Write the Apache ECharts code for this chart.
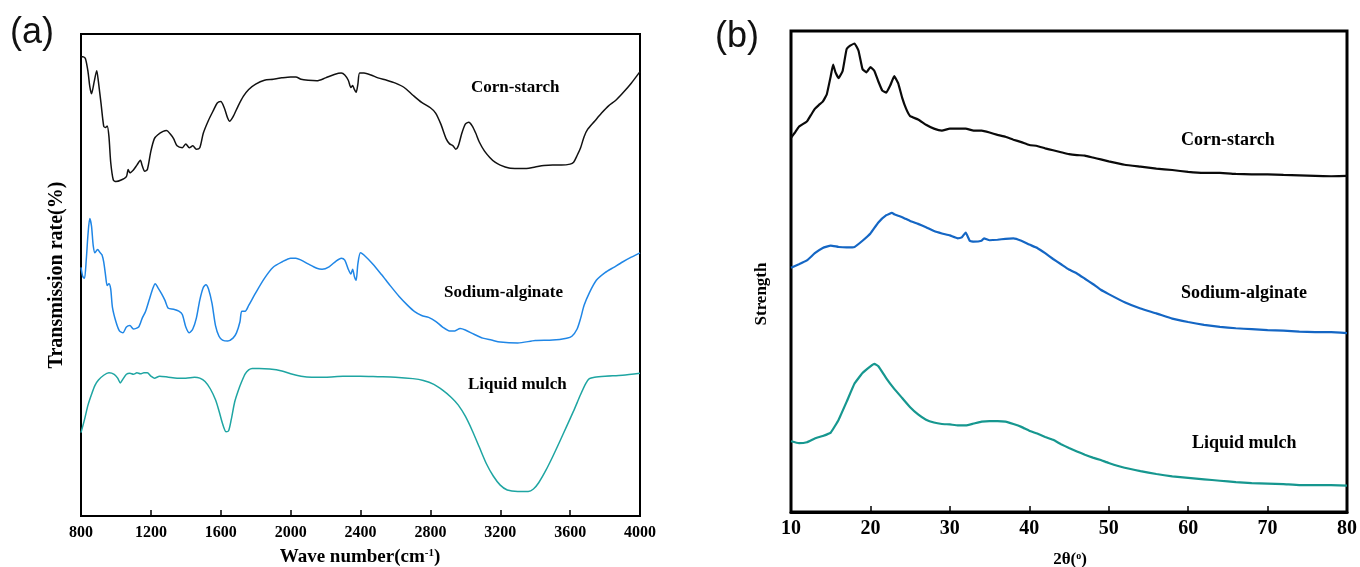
<!DOCTYPE html>
<html>
<head>
<meta charset="utf-8">
<title>FTIR and XRD spectra</title>
<script src="https://cdn.jsdelivr.net/npm/echarts@6/dist/echarts.min.js"></script>
<style>
  html, body { margin: 0; padding: 0; background: #fff; }
  #chart { width: 1360px; height: 567px; }
</style>
</head>
<body>
<div id="chart"></div>
<script>
// ---- (a) FTIR spectra: [wave number (cm-1), transmission (a.u.)] ----
const ftirCornStarch = [
  [800,95.3],[810,95.3],[825,94.9],[840,92.2],[850,89.2],[860,87.6],[875,90.0],[890,92.4],[900,90.0],
  [915,85.5],[930,80.9],[940,80.6],[950,80.9],[960,78.7],[970,73.4],[985,69.7],[1000,69.4],[1030,69.7],
  [1060,70.4],[1070,71.9],[1080,71.2],[1100,71.8],[1120,72.8],[1140,73.8],[1150,72.7],[1165,71.5],
  [1180,71.9],[1200,75.7],[1220,78.3],[1240,79.1],[1270,79.8],[1290,80.0],[1310,79.3],[1330,78.3],
  [1350,76.8],[1380,76.4],[1400,77.2],[1420,76.4],[1440,76.8],[1460,76.1],[1480,76.4],[1500,79.4],
  [1530,82.1],[1560,84.3],[1580,85.7],[1600,86.0],[1620,84.7],[1640,82.5],[1650,81.9],[1670,82.8],
  [1700,85.1],[1730,87.1],[1760,88.5],[1800,89.6],[1850,90.4],[1900,90.6],[1950,90.9],[2000,91.1],
  [2030,91.1],[2060,90.6],[2100,90.4],[2150,90.3],[2200,90.9],[2250,91.6],[2290,91.9],[2310,91.5],
  [2330,90.4],[2345,88.9],[2355,89.3],[2365,88.5],[2375,87.9],[2385,89.6],[2395,91.9],[2420,91.9],
  [2460,91.5],[2500,90.9],[2550,90.4],[2600,89.8],[2650,88.9],[2700,87.3],[2750,85.8],[2800,84.7],
  [2830,83.6],[2860,81.3],[2890,78.3],[2910,77.2],[2930,76.8],[2945,76.1],[2960,76.8],[2980,79.4],
  [3000,81.3],[3020,81.7],[3040,80.9],[3060,79.4],[3080,77.6],[3110,75.7],[3140,74.4],[3170,73.4],
  [3200,72.8],[3250,72.2],[3300,72.1],[3350,72.1],[3400,72.4],[3450,72.7],[3500,72.8],[3550,72.8],
  [3600,73.0],[3620,73.4],[3640,74.8],[3660,76.4],[3680,78.7],[3700,80.2],[3740,81.9],[3780,83.6],
  [3820,85.1],[3860,86.2],[3900,87.7],[3950,89.8],[4000,92.2]
];
const ftirSodiumAlginate = [
  [800,51.6],[810,49.7],[820,49.3],[830,53.1],[840,58.4],[850,61.7],[860,60.2],[870,56.1],[880,54.6],
  [895,55.3],[910,54.6],[920,54.2],[930,52.7],[940,50.1],[950,47.8],[960,48.2],[970,47.1],[980,43.3],
  [1000,40.3],[1020,38.4],[1040,38.0],[1060,39.2],[1080,39.5],[1100,38.8],[1130,39.2],[1150,41.0],
  [1170,42.5],[1190,44.8],[1210,47.1],[1225,48.2],[1240,47.4],[1260,46.2],[1280,44.8],[1300,43.1],
  [1330,42.9],[1360,42.5],[1380,41.8],[1400,39.2],[1420,38.0],[1440,38.8],[1460,41.0],[1480,44.8],
  [1500,47.4],[1515,48.0],[1530,47.1],[1550,44.1],[1570,39.5],[1590,37.3],[1610,36.5],[1640,36.3],
  [1670,36.9],[1690,38.0],[1710,40.3],[1720,42.5],[1740,42.5],[1760,43.7],[1800,46.3],[1850,49.3],
  [1900,51.6],[1950,52.7],[2000,53.5],[2030,53.5],[2060,53.1],[2100,52.3],[2150,51.4],[2180,51.2],
  [2220,51.7],[2260,52.9],[2290,53.5],[2310,53.1],[2330,51.2],[2345,50.2],[2355,51.2],[2365,49.7],
  [2375,48.9],[2385,52.3],[2400,54.6],[2430,53.8],[2470,52.3],[2520,50.1],[2570,47.8],[2620,45.6],
  [2670,43.7],[2710,42.4],[2750,41.6],[2790,41.2],[2830,40.4],[2870,39.2],[2910,38.4],[2940,38.4],
  [2970,38.9],[3000,38.6],[3050,37.7],[3100,36.9],[3150,36.5],[3200,36.1],[3300,35.9],[3400,36.4],
  [3500,36.5],[3580,36.9],[3610,37.3],[3640,38.8],[3660,41.0],[3680,43.7],[3710,46.3],[3750,48.9],
  [3800,50.5],[3850,51.6],[3900,52.7],[3950,53.7],[4000,54.6]
];
const ftirLiquidMulch = [
  [800,17.3],[820,20.0],[840,23.0],[860,25.2],[880,27.1],[900,28.2],[930,29.2],[960,29.7],[990,29.4],
  [1010,28.6],[1025,27.6],[1040,28.4],[1060,29.4],[1080,29.6],[1100,29.4],[1120,29.7],[1140,29.5],
  [1160,29.7],[1180,29.7],[1200,29.0],[1220,28.6],[1250,29.0],[1300,28.8],[1350,28.6],[1400,28.6],
  [1450,28.8],[1480,28.6],[1510,27.9],[1540,26.4],[1570,24.1],[1590,21.8],[1610,19.2],[1630,17.5],
  [1645,17.7],[1660,20.0],[1680,23.7],[1700,26.0],[1720,27.9],[1740,29.5],[1760,30.3],[1780,30.6],
  [1820,30.6],[1880,30.5],[1950,30.1],[2000,29.5],[2060,29.0],[2120,28.8],[2200,28.8],[2300,29.0],
  [2400,29.0],[2500,28.9],[2600,28.8],[2700,28.5],[2760,28.1],[2820,27.3],[2870,26.1],[2920,24.6],
  [2960,23.0],[3000,20.7],[3040,17.7],[3080,14.3],[3120,10.9],[3160,8.3],[3200,6.4],[3240,5.4],
  [3300,5.1],[3360,5.1],[3390,5.6],[3420,6.9],[3460,9.4],[3500,12.3],[3540,15.4],[3580,18.6],
  [3620,21.8],[3660,25.2],[3690,27.5],[3710,28.5],[3740,28.8],[3800,29.0],[3900,29.2],[4000,29.6]
];

// ---- (b) XRD patterns: [2θ (°), intensity (a.u.)] ----
const xrdCornStarch = [
  [10,77.8],[10.5,78.9],[11,80.1],[12,81.2],[12.5,82.5],[13,83.8],[13.5,84.6],[14,85.3],[14.5,86.8],
  [15,90.6],[15.3,93.0],[15.6,91.4],[16,90.2],[16.5,91.7],[17,96.2],[17.5,97.0],[18,97.4],[18.5,95.9],
  [19,92.1],[19.5,91.4],[20,92.5],[20.5,91.7],[21,89.5],[21.5,87.6],[22,87.2],[22.5,88.7],[23,90.6],
  [23.5,89.1],[24,86.1],[24.5,83.8],[25,82.3],[26,81.6],[27,80.5],[28,79.7],[29,79.3],[30,79.7],
  [31,79.7],[32,79.7],[33,79.3],[34,79.3],[35,78.9],[36,78.4],[37,78.0],[38,77.4],[39,76.9],[40,76.3],
  [41,76.1],[42,75.6],[43,75.2],[44,74.8],[45,74.4],[46,74.2],[47,74.1],[48,73.7],[49,73.3],[50,72.9],
  [52,72.2],[54,71.8],[56,71.4],[58,71.1],[60,70.7],[62,70.5],[64,70.5],[66,70.3],[68,70.2],[70,70.2],
  [72,70.1],[74,70.0],[76,69.9],[78,69.8],[80,69.9]
];
const xrdSodiumAlginate = [
  [10,50.8],[11,51.5],[12,52.3],[13,53.8],[14,54.9],[15,55.4],[16,55.1],[17,55.0],[18,55.1],[19,56.4],
  [20,57.9],[21,60.2],[22,61.7],[22.7,62.2],[23,61.9],[24,61.3],[25,60.5],[26,59.9],[27,59.2],[28,58.4],
  [29,57.9],[30,57.5],[31,56.9],[31.5,57.1],[32,58.1],[32.5,56.4],[33,56.2],[34,56.4],[34.3,56.9],
  [35,56.5],[36,56.6],[37,56.8],[38,56.9],[39,56.4],[40,55.6],[41,54.9],[42,53.8],[43,52.6],[44,51.5],
  [45,50.4],[46,49.6],[47,48.5],[48,47.4],[49,46.2],[50,45.3],[52,43.6],[54,42.3],[56,41.3],[58,40.2],
  [60,39.5],[62,38.9],[64,38.5],[66,38.2],[68,38.0],[70,37.8],[72,37.7],[74,37.5],[76,37.4],[78,37.4],
  [80,37.2]
];
const xrdLiquidMulch = [
  [10,14.7],[11,14.3],[12,14.5],[13,15.3],[14,15.8],[15,16.5],[16,19.2],[17,22.9],[18,26.7],[19,28.9],
  [20,30.3],[20.5,30.8],[21,30.3],[22,27.8],[23,25.6],[24,23.7],[25,21.8],[26,20.3],[27,19.2],[28,18.6],
  [29,18.3],[30,18.2],[31,18.0],[32,18.0],[33,18.4],[34,18.8],[35,18.9],[36,18.9],[37,18.8],[38,18.3],
  [39,17.7],[40,16.9],[41,16.3],[42,15.6],[43,15.0],[44,14.1],[45,13.3],[46,12.6],[47,11.9],[48,11.3],
  [49,10.8],[50,10.2],[52,9.2],[54,8.5],[56,7.9],[58,7.4],[60,7.1],[62,6.8],[64,6.5],[66,6.2],[68,6.0],
  [70,5.9],[72,5.8],[74,5.6],[76,5.6],[78,5.6],[80,5.5]
];

const sampleNames = ['Corn-starch', 'Sodium-alginate', 'Liquid mulch'];
const ftirTicks = { min: 800, max: 4000, step: 400 };
const xrdTicks = { min: 10, max: 80, step: 10 };

const SERIF = '"Liberation Serif", "Times New Roman", serif';
const SANS = '"Liberation Sans", Arial, sans-serif';
const BLACK = '#000000';
const COLORS_A = ['#111111', '#1f86e6', '#1ea5a2'];
const COLORS_B = ['#0a0a0a', '#1466c4', '#16978f'];

const chart = echarts.init(document.getElementById('chart'), null, { renderer: 'canvas' });

function xAxisCfg(gridIndex, t, fontSize, margin) {
  return {
    type: 'value', gridIndex,
    min: t.min, max: t.max, interval: t.step,
    axisLine: { show: true, onZero: false, lineStyle: { color: BLACK, width: gridIndex === 0 ? 2 : 3 } },
    axisTick: { show: true, inside: true, length: 6, lineStyle: { color: BLACK, width: 1.5 } },
    axisLabel: {
      color: BLACK, fontFamily: SERIF, fontWeight: 'bold', fontSize, margin,
      formatter: v => String(v)
    },
    splitLine: { show: false }
  };
}
function yAxisCfg(gridIndex) {
  return {
    type: 'value', gridIndex, min: 0, max: 100,
    axisLine: { show: false }, axisTick: { show: false },
    axisLabel: { show: false }, splitLine: { show: false }
  };
}
function lineSeries(data, xi, color, width, smooth) {
  return {
    type: 'line', xAxisIndex: xi, yAxisIndex: xi, data,
    showSymbol: false, smooth, silent: true, animation: false,
    lineStyle: { color, width }
  };
}
function label(text, x, y, size) {
  return {
    type: 'text', left: x, top: y - size / 2,
    style: { text, fill: BLACK, font: 'bold ' + size + 'px ' + SERIF }
  };
}

const ftirSets = [ftirCornStarch, ftirSodiumAlginate, ftirLiquidMulch];
const xrdSets = [xrdCornStarch, xrdSodiumAlginate, xrdLiquidMulch];

chart.setOption({
  animation: false,
  backgroundColor: '#ffffff',
  grid: [
    { left: 81, top: 34, width: 559, height: 482, show: true, borderColor: BLACK, borderWidth: 2, backgroundColor: 'transparent' },
    { left: 791, top: 31, width: 558, height: 481, show: true, borderColor: BLACK, borderWidth: 3, backgroundColor: 'transparent' }
  ],
  xAxis: [xAxisCfg(0, ftirTicks, 16, 9), xAxisCfg(1, xrdTicks, 20, 7)],
  yAxis: [yAxisCfg(0), yAxisCfg(1)],
  series: [
    // FTIR traces are smooth; XRD traces keep their point-to-point roughness
    ...ftirSets.map((d, i) => lineSeries(d, 0, COLORS_A[i], 1.5, 0.25)),
    ...xrdSets.map((d, i) => lineSeries(d, 1, COLORS_B[i], 2.2, 0.1))
  ],
  graphic: [
    { type: 'text', left: 10, top: 15, style: { text: '(a)', fill: '#111', font: '36px ' + SANS } },
    { type: 'text', left: 715, top: 19, style: { text: '(b)', fill: '#111', font: '36px ' + SANS } },

    label(sampleNames[0], 471, 88, 17),
    label(sampleNames[1], 444, 293, 17),
    label(sampleNames[2], 468, 385, 17),

    label(sampleNames[0], 1181, 140, 18),
    label(sampleNames[1], 1181, 293, 18),
    label(sampleNames[2], 1192, 443, 18),

    {
      type: 'text', x: 57, y: 275, rotation: Math.PI / 2,
      style: { text: 'Transmission rate(%)', fill: BLACK, font: 'bold 20px ' + SERIF, textAlign: 'center', textVerticalAlign: 'middle' }
    },
    {
      type: 'text', x: 762, y: 294, rotation: Math.PI / 2,
      style: { text: 'Strength', fill: BLACK, font: 'bold 17px ' + SERIF, textAlign: 'center', textVerticalAlign: 'middle' }
    },
    {
      type: 'text', x: 360, y: 557,
      style: {
        text: '{t|Wave number(cm}{s|-1}{t|)}',
        textAlign: 'center', textVerticalAlign: 'middle',
        rich: {
          t: { font: 'bold 19px ' + SERIF, fill: BLACK, verticalAlign: 'bottom' },
          s: { font: 'bold 11px ' + SERIF, fill: BLACK, verticalAlign: 'top', padding: [0, 0, 8, 0] }
        }
      }
    },
    {
      type: 'text', x: 1070, y: 560,
      style: {
        text: '{t|2θ(}{s|o}{t|)}',
        textAlign: 'center', textVerticalAlign: 'middle',
        rich: {
          t: { font: 'bold 17px ' + SERIF, fill: BLACK, verticalAlign: 'bottom' },
          s: { font: 'bold 10px ' + SERIF, fill: BLACK, verticalAlign: 'top', padding: [0, 0, 6, 0] }
        }
      }
    }
  ]
});
</script>
</body>
</html>
